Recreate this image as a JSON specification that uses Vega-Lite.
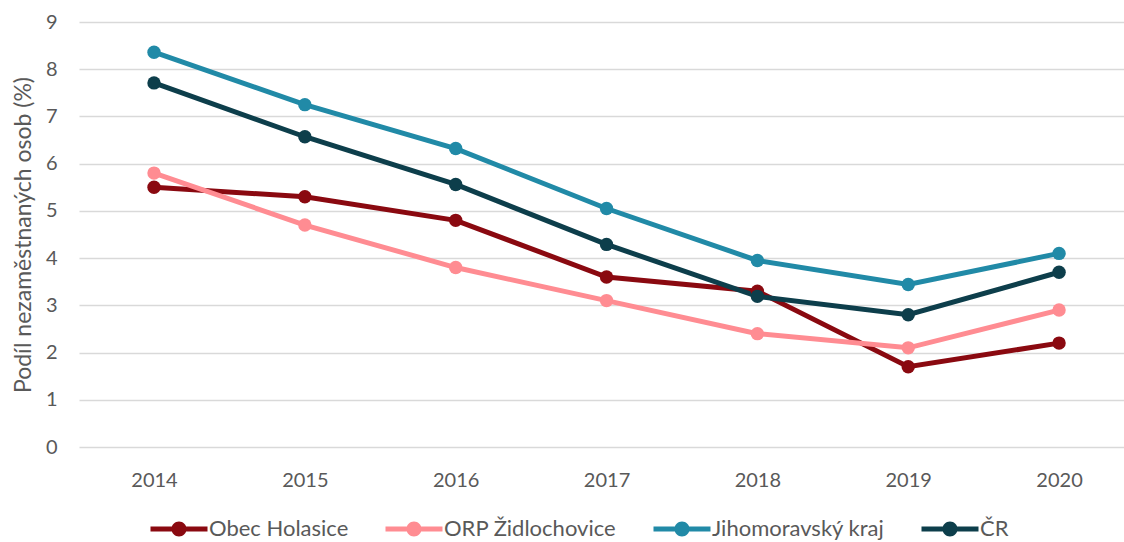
{
  "$schema": "https://vega.github.io/schema/vega-lite/v6.json",
  "width": 1045,
  "height": 425,
  "autosize": {"type": "none"},
  "padding": {"left": 79, "top": 22, "right": 0, "bottom": 95},
  "background": "white",
  "config": {
    "view": {"stroke": null},
    "font": "Lato",
    "axis": {"labelFont": "Lato", "titleFont": "Lato", "labelColor": "#595959", "titleColor": "#595959", "labelFontSize": 20, "titleFontSize": 23, "titleFontWeight": "normal"},
    "legend": {"labelFont": "Lato", "labelFontSize": 22, "labelColor": "#595959", "labelLimit": 400}
  },
  "data": {
    "values": [
      {"rok": "2014", "serie": "Obec Holasice", "podil": 5.5},
      {"rok": "2015", "serie": "Obec Holasice", "podil": 5.3},
      {"rok": "2016", "serie": "Obec Holasice", "podil": 4.8},
      {"rok": "2017", "serie": "Obec Holasice", "podil": 3.6},
      {"rok": "2018", "serie": "Obec Holasice", "podil": 3.3},
      {"rok": "2019", "serie": "Obec Holasice", "podil": 1.7},
      {"rok": "2020", "serie": "Obec Holasice", "podil": 2.2},
      {"rok": "2014", "serie": "ORP Židlochovice", "podil": 5.8},
      {"rok": "2015", "serie": "ORP Židlochovice", "podil": 4.7},
      {"rok": "2016", "serie": "ORP Židlochovice", "podil": 3.8},
      {"rok": "2017", "serie": "ORP Židlochovice", "podil": 3.1},
      {"rok": "2018", "serie": "ORP Židlochovice", "podil": 2.4},
      {"rok": "2019", "serie": "ORP Židlochovice", "podil": 2.1},
      {"rok": "2020", "serie": "ORP Židlochovice", "podil": 2.9},
      {"rok": "2014", "serie": "Jihomoravský kraj", "podil": 8.36},
      {"rok": "2015", "serie": "Jihomoravský kraj", "podil": 7.25},
      {"rok": "2016", "serie": "Jihomoravský kraj", "podil": 6.32},
      {"rok": "2017", "serie": "Jihomoravský kraj", "podil": 5.05},
      {"rok": "2018", "serie": "Jihomoravský kraj", "podil": 3.95},
      {"rok": "2019", "serie": "Jihomoravský kraj", "podil": 3.44},
      {"rok": "2020", "serie": "Jihomoravský kraj", "podil": 4.1},
      {"rok": "2014", "serie": "ČR", "podil": 7.71},
      {"rok": "2015", "serie": "ČR", "podil": 6.57},
      {"rok": "2016", "serie": "ČR", "podil": 5.56},
      {"rok": "2017", "serie": "ČR", "podil": 4.29},
      {"rok": "2018", "serie": "ČR", "podil": 3.19},
      {"rok": "2019", "serie": "ČR", "podil": 2.8},
      {"rok": "2020", "serie": "ČR", "podil": 3.7}
    ]
  },
  "encoding": {
    "x": {
      "field": "rok", "type": "ordinal",
      "scale": {"type": "point", "padding": 0.464, "align": 0.536},
      "axis": {"title": null, "labelAngle": 0, "domain": false, "ticks": false, "grid": false, "labelPadding": 23}
    },
    "y": {
      "field": "podil", "type": "quantitative",
      "scale": {"domain": [0, 9], "nice": false},
      "axis": {"title": "Podíl nezaměstnaných osob (%)", "values": [0,1,2,3,4,5,6,7,8,9], "domain": false, "ticks": false, "grid": true, "gridColor": "#d9d9d9", "gridWidth": 1.5, "labelPadding": 22, "titlePadding": 10}
    },
    "color": {
      "field": "serie", "type": "nominal",
      "scale": {"domain": ["Obec Holasice", "ORP Židlochovice", "Jihomoravský kraj", "ČR"], "range": ["#8a0910", "#ff8c92", "#218aa7", "#0d3e4b"]},
      "legend": {
        "title": null, "orient": "none", "direction": "horizontal", "legendX": 89, "legendY": 496,
        "padding": 0, "columnPadding": 36, "labelOffset": 19,
        "symbolType": "M-3.8,-0.33H3.8V0.33H-3.8Z M-1,0A1,1 0 1,1 1,0A1,1 0 1,1 -1,0Z",
        "symbolSize": 225, "symbolStrokeWidth": 0,
        "encode": {"symbols": {"update": {"fill": {"scale": "color", "field": "value"}, "strokeWidth": {"value": 0}, "opacity": {"value": 1}}}}
      }
    }
  },
  "layer": [
    {"mark": {"type": "line", "strokeWidth": 5}},
    {"mark": {"type": "point", "filled": true, "size": 180, "opacity": 1}}
  ]
}
